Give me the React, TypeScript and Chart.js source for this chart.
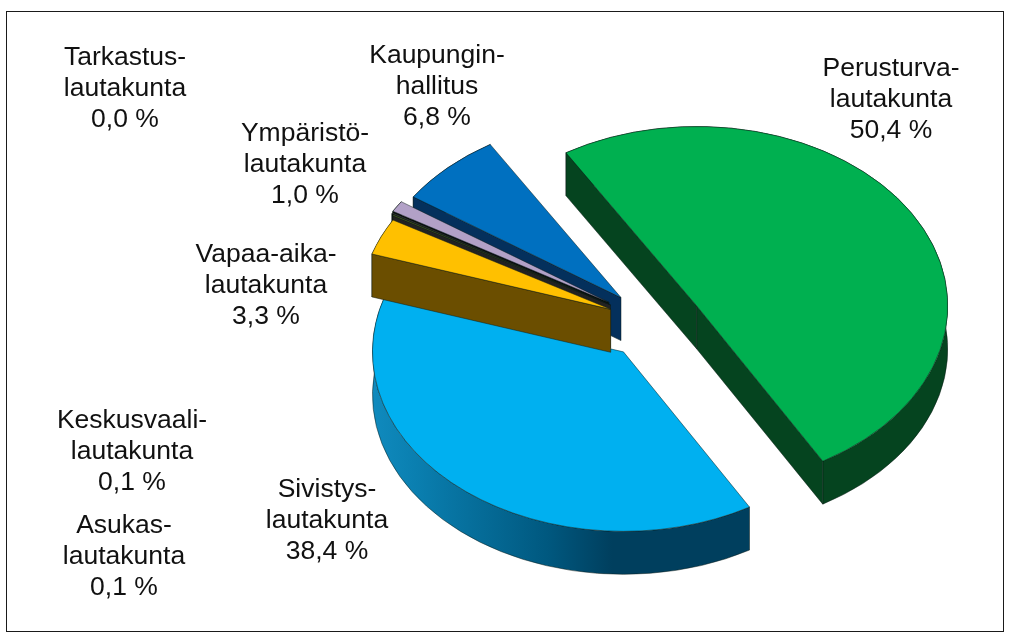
import React, { useEffect, useRef } from "react";
import { Chart, registerables } from "chart.js";

Chart.register(...registerables);

const categories = [
  ["Perusturva-", "lautakunta"],
  ["Sivistys-", "lautakunta"],
  ["Vapaa-aika-", "lautakunta"],
  ["Asukas-", "lautakunta"],
  ["Keskusvaali-", "lautakunta"],
  ["Ympäristö-", "lautakunta"],
  ["Kaupungin-", "hallitus"],
  ["Tarkastus-", "lautakunta"],
];
const values = [50.4, 38.4, 3.3, 0.1, 0.1, 1.0, 6.8, 0.0];
const valueLabels = ["50,4 %", "38,4 %", "3,3 %", "0,1 %", "0,1 %", "1,0 %", "6,8 %", "0,0 %"];

const topColors = ["#00b050", "#00b0f0", "#ffc000", "#4f6228", "#404040", "#b2a1c7", "#0070c0", "#c0504d"];
const wallColors = ["#05441f", "#004a6e", "#6b4e00", "#222222", "#0a0a0a", "#0a0a0a", "#04305c", "#632523"];
const explode = [48, 51, 49, 52, 54, 55, 50, 50];
const paintOrder = [1, 0, 7, 6, 5, 4, 3, 2];
// x centre and the baseline of the middle line of each label
const labelAnchors = [
  [891, 107], [327, 528], [266, 293], [124, 564], [132, 459], [305, 172], [437, 94], [125, 96],
];

const W = 1011;
const H = 635;
const CX = 655.5;
const CY = 323.5;
const RADIUS = 251;
const SQUASH = 0.715;
const DEPTH = 43 / SQUASH;
const EDGE = "rgba(10,25,20,0.7)";

function blueWallGradient(ctx: CanvasRenderingContext2D) {
  const g = ctx.createLinearGradient(372, 0, 750, 0);
  g.addColorStop(0, "#1493c8");
  g.addColorStop(0.2, "#0a7fb0");
  g.addColorStop(0.55, "#00587f");
  g.addColorStop(0.72, "#003f5e");
  g.addColorStop(1, "#003f5e");
  return g;
}

function drawWalls(ctx: CanvasRenderingContext2D, el: any, i: number) {
  const { x, y, startAngle, endAngle, outerRadius } = el.getProps(["x", "y", "startAngle", "endAngle", "outerRadius"]);
  if (endAngle - startAngle <= 0) return;
  const fill: any = i === 1 ? blueWallGradient(ctx) : wallColors[i];
  ctx.save();
  ctx.fillStyle = fill;
  ctx.strokeStyle = EDGE;
  ctx.lineWidth = 0.8;
  ctx.lineJoin = "round";
  // outer rim
  ctx.beginPath();
  ctx.arc(x, y, outerRadius, startAngle, endAngle);
  ctx.arc(x, y + DEPTH, outerRadius, endAngle, startAngle, true);
  ctx.closePath();
  ctx.fill();
  ctx.stroke();
  // the cut faces that look towards the viewer
  const faces = [
    { a: startAngle, front: -Math.cos(startAngle) > 0 },
    { a: endAngle, front: Math.cos(endAngle) > 0 },
  ];
  for (const { a, front } of faces) {
    if (!front) continue;
    const px = x + Math.cos(a) * outerRadius;
    const py = y + Math.sin(a) * outerRadius;
    ctx.beginPath();
    ctx.moveTo(x, y);
    ctx.lineTo(px, py);
    ctx.lineTo(px, py + DEPTH);
    ctx.lineTo(x, y + DEPTH);
    ctx.closePath();
    ctx.fillStyle = wallColors[i];
    ctx.fill();
    ctx.stroke();
  }
  ctx.restore();
}

const pie3d = {
  id: "pie3d",
  beforeDraw(chart: any) {
    const ctx = chart.ctx;
    ctx.save();
    ctx.fillStyle = "#ffffff";
    ctx.fillRect(0, 0, W, H);
    ctx.strokeStyle = "#1a1a1a";
    ctx.lineWidth = 1;
    ctx.strokeRect(6.5, 11.5, 997, 620);
    ctx.restore();
  },
  beforeDatasetDraw(chart: any) {
    const ctx = chart.ctx;
    const meta = chart.getDatasetMeta(0);
    ctx.save();
    ctx.translate(0, CY);
    ctx.scale(1, SQUASH);
    ctx.translate(0, -CY);
    for (const i of paintOrder) {
      const el = meta.data[i];
      if (values[i] <= 0) continue;
      const mid = (el.startAngle + el.endAngle) / 2;
      ctx.save();
      ctx.translate(Math.cos(mid) * explode[i], Math.sin(mid) * explode[i]);
      drawWalls(ctx, el, i);
      el.draw(ctx);
      ctx.restore();
    }
    ctx.restore();
    return false;
  },
  afterDraw(chart: any) {
    const ctx = chart.ctx;
    ctx.save();
    ctx.fillStyle = "#111111";
    ctx.font = '26.5px "Liberation Sans", Arial, sans-serif';
    ctx.textAlign = "center";
    ctx.textBaseline = "alphabetic";
    categories.forEach((lines, i) => {
      const [x, y] = labelAnchors[i];
      ctx.fillText(lines[0], x, y - 31);
      ctx.fillText(lines[1], x, y);
      ctx.fillText(valueLabels[i], x, y + 31);
    });
    ctx.restore();
  },
};

export default function App() {
  const ref = useRef<HTMLCanvasElement | null>(null);
  useEffect(() => {
    const chart = new Chart(ref.current as HTMLCanvasElement, {
      type: "pie",
      data: {
        labels: categories.map((c) => c.join(" ")),
        datasets: [
          {
            data: values,
            backgroundColor: topColors,
            borderColor: EDGE,
            borderWidth: 0.8,
            offset: 0,
            clip: false,
          } as any,
        ],
      },
      options: {
        responsive: false,
        animation: false,
        rotation: -31.4,
        radius: RADIUS,
        layout: { padding: { left: 2 * CX - W, top: 2 * CY - H } },
        plugins: { legend: { display: false }, tooltip: { enabled: false } },
      } as any,
      plugins: [pie3d],
    });
    return () => chart.destroy();
  }, []);
  return (
    <div style={{ position: "fixed", left: 0, top: 0, width: W, height: H, background: "#fff" }}>
      <canvas ref={ref} width={W} height={H} style={{ display: "block" }} />
    </div>
  );
}
